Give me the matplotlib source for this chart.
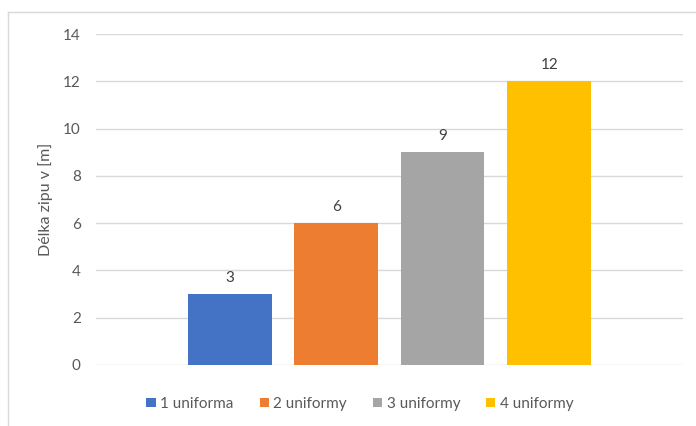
import matplotlib.pyplot as plt
import numpy as np
from matplotlib.patches import Patch
from matplotlib.lines import Line2D

plt.rcParams['font.family'] = ['Lato', 'DejaVu Sans']

labels = ['1 uniforma', '2 uniformy', '3 uniformy', '4 uniformy']
values = [3, 6, 9, 12]
colors = ['#4472C4', '#ED7D31', '#A5A5A5', '#FFC000']
ylabel = 'Délka zipu v [m]'

fig = plt.figure(figsize=(6.96, 4.26), dpi=100)
ax = fig.add_axes([96 / 696, 1 - 365 / 426, 587 / 696, 331 / 426])

step = 106.5 / 587
width = 83.5 / 587
offsets = (np.arange(len(values)) - 1.5) * step
for off, v, c, lab in zip(offsets, values, colors, labels):
    ax.bar(off, v, width=width, color=c, label=lab, zorder=3)
    ax.text(off, v + 0.4, str(v), ha='center', va='bottom',
            fontsize=11, color='#404040')

ax.set_xlim(-0.5, 0.5)
ax.set_ylim(0, 14)
ax.set_yticks(range(0, 15, 2))
ax.set_xticks([])
ax.tick_params(axis='y', length=0, pad=11, labelsize=11, labelcolor='#595959')
ax.grid(axis='y', color='#d9d9d9', linewidth=1, zorder=0)
for s in ax.spines.values():
    s.set_visible(False)
ax.set_ylabel(ylabel, fontsize=11.5, color='#595959', labelpad=7)

handles = [Patch(facecolor=c, label=l) for c, l in zip(colors, labels)]
fig.legend(handles=handles, loc='center', bbox_to_anchor=(360 / 696, 1 - 404 / 426),
           ncol=4, frameon=False, fontsize=11, labelcolor='#595959',
           handlelength=0.6, handleheight=0.6, handletextpad=0.3, columnspacing=1.7)

# chart frame (top and left edges visible in the crop)
fig.add_artist(Line2D([8 / 696, 1], [1 - 12 / 426, 1 - 12 / 426],
                      transform=fig.transFigure, color='#d9d9d9', linewidth=1))
fig.add_artist(Line2D([8 / 696, 8 / 696], [0, 1 - 12 / 426],
                      transform=fig.transFigure, color='#d9d9d9', linewidth=1))

fig.savefig('out.png', dpi=100)
